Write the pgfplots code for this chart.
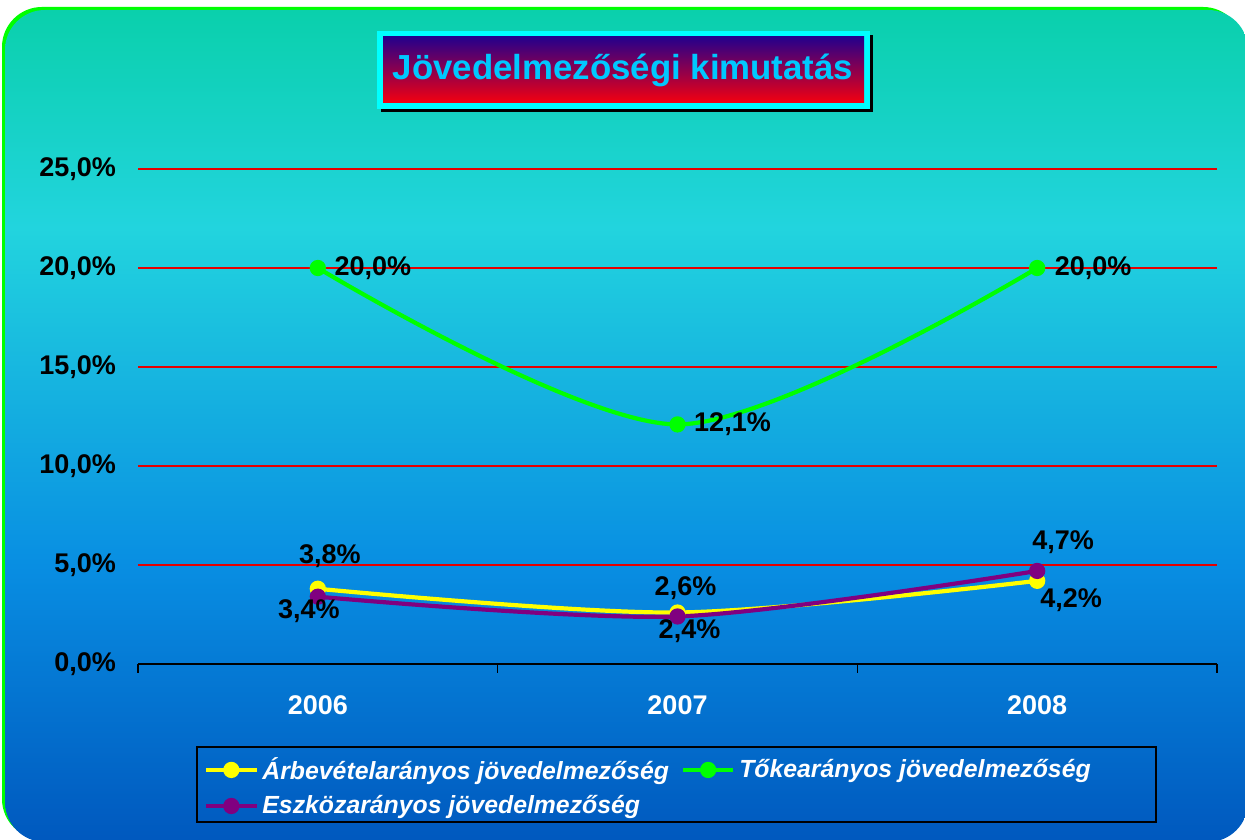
\documentclass[border=0pt]{standalone}
\usepackage{fontspec}
\setmainfont{Liberation Sans}
\usepackage{pgfplots}
\pgfplotsset{compat=1.18}
\definecolor{bgtop}{RGB}{10,208,172}
\definecolor{bgmid}{RGB}{34,212,222}
\definecolor{bgblue}{RGB}{8,142,226}
\definecolor{bgbot}{RGB}{0,88,190}
\definecolor{brdgreen}{RGB}{0,255,0}
\definecolor{ttltop}{RGB}{36,0,140}
\definecolor{ttlmid}{RGB}{140,0,110}
\definecolor{ttlbot}{RGB}{245,0,15}
\definecolor{ttltext}{RGB}{0,200,255}
\definecolor{ttlcyan}{RGB}{0,255,255}
\definecolor{sYellow}{RGB}{255,255,0}
\definecolor{sGreen}{RGB}{0,255,0}
\definecolor{sPurple}{RGB}{128,0,128}
\definecolor{gridred}{RGB}{230,0,0}
\pgfdeclareverticalshading{bgshade}{100bp}{color(0bp)=(bgbot); color(25bp)=(bgbot); color(41.6bp)=(bgblue); color(61.9bp)=(bgmid); color(75bp)=(bgtop); color(100bp)=(bgtop)}
\pgfplotsset{
  lbl/.style={
    nodes near coords={\pgfmathprintnumber[fixed,fixed zerofill,precision=1,use comma]{\pgfplotspointmeta}\%},
    point meta=y,
    visualization depends on={\thisrow{dx}\as\dx},
    visualization depends on={\thisrow{dy}\as\dy},
    nodes near coords style={anchor=center, xshift=\dx pt, yshift=\dy pt, text=black, font=\fontsize{13.5}{15}\bfseries\selectfont, inner sep=0pt},
  }
}
\begin{document}
\begin{tikzpicture}
\begin{scope}[x=0.5pt,y=0.5pt]
  \useasboundingbox (0,0) rectangle (1245,839);
  \clip (0,0) rectangle (1245,839);
  \fill[brdgreen, rounded corners=20] (2,0) rectangle (1243,832);
  \shade[shading=bgshade, rounded corners=20] (5,-3) rectangle (1248,829);
  % title box
  \fill[black] (381,839-112) rectangle (873,839-35);
  \fill[ttlcyan] (377,839-109) rectangle (870,839-31);
  \shade[top color=ttltop, middle color=ttlmid, bottom color=ttlbot] (383,839-103) rectangle (864,839-37);
  \node[text=ttltext, font=\fontsize{17.4}{20}\bfseries\selectfont, anchor=center] at (623,839-70) {Jövedelmezőségi kimutatás};
  % legend frame
  \draw[black, line width=0.8pt] (197,839-822) rectangle (1156,839-747);
\end{scope}
\begin{axis}[
  at={(69pt,87.5pt)}, anchor=south west,
  scale only axis, width=539.5pt, height=247.5pt,
  xmin=-0.5, xmax=2.5, ymin=0, ymax=25,
  xtick={0,1,2}, xticklabels={2006,2007,2008},
  minor xtick={-0.5,0.5,1.5,2.5},
  ytick={0,5,10,15,20,25},
  axis x line*=bottom, axis y line*=left,
  y axis line style={draw=none},
  x axis line style={black, line width=0.8pt, -},
  ymajorgrids, grid style={gridred, line width=1.2pt},
  major tick length=0pt, minor tick length=4.5pt, tick align=outside,
  minor tick style={black, line width=0.8pt},
  ytick style={draw=none},
  /pgf/number format/assume math mode=true,
  yticklabel={\pgfmathprintnumber[fixed,fixed zerofill,precision=1,use comma]{\tick}\%},
  yticklabel style={font=\fontsize{13.5}{15}\bfseries\selectfont, text=black, xshift=-7.5pt},
  xticklabel style={font=\fontsize{13.5}{15}\bfseries\selectfont, text=white, yshift=-12.5pt},
  clip=false,
  legend columns=2, legend cell align=left,
  legend style={draw=none, fill=none, at={(axis description cs:0.061,-0.180)}, anchor=north west,
    text=white, font=\fontsize{12.4}{14}\bfseries\itshape\selectfont,
    /tikz/every even column/.append style={column sep=4pt}, row sep=2.5pt, inner sep=0pt},
  legend image code/.code={\draw[mark repeat=2,mark phase=2,#1] plot coordinates {(0pt,0pt) (12.5pt,0pt) (25pt,0pt)};},
]
\addplot[smooth, color=sYellow, line width=2.1pt, mark=*, mark size=3pt, mark options={solid}, lbl] table {
x y dx dy
0 3.8 6 16.5
1 2.6 4 12
2 4.2 17 -9.5
};
\addlegendentry{Árbevételarányos jövedelmezőség}
\addplot[smooth, color=sGreen, line width=2.1pt, mark=*, mark size=3pt, mark options={solid}, lbl] table {
x y dx dy
0 20.0 27.5 0
1 12.1 27.5 0
2 20.0 28 0
};
\addlegendentry{Tőkearányos jövedelmezőség}
\addplot[smooth, color=sPurple, line width=2.1pt, mark=*, mark size=3pt, mark options={solid}, lbl] table {
x y dx dy
0 3.4 -4.5 -7
1 2.4 6 -7.5
2 4.7 13 14.5
};
\addlegendentry{Eszközarányos jövedelmezőség}
\end{axis}
\end{tikzpicture}
\end{document}
